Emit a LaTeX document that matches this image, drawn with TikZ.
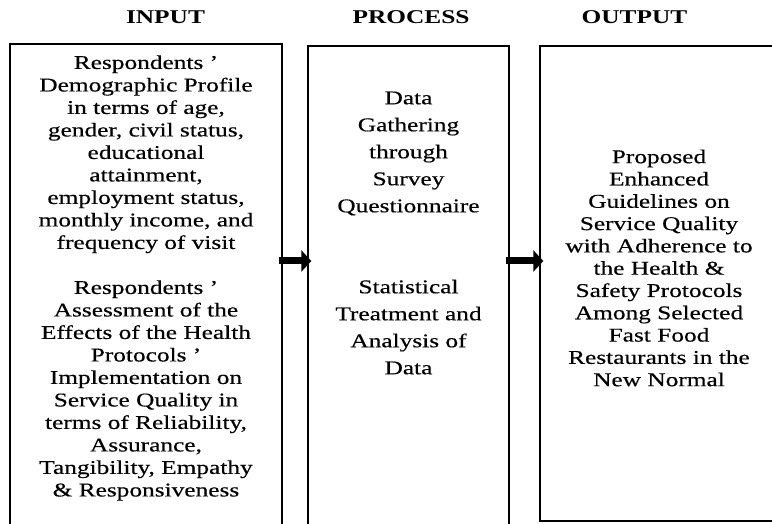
\documentclass[tikz,border=0pt]{standalone}
\usepackage{fontspec}
\setmainfont[FakeStretch=1.3]{Liberation Serif}
\newfontfamily\panelfont[FakeStretch=1.3,FakeBold=0.4]{Liberation Serif}
\usetikzlibrary{arrows.meta}
\begin{document}
\begin{tikzpicture}[x=1pt,y=-1pt,
  panel/.style={draw=black,line width=1.3pt,inner sep=0pt},
  heading/.style={font=\fontsize{19.5}{22.5}\selectfont\bfseries,inner sep=0pt},
  body/.style={align=center,inner sep=0pt,font=\panelfont\fontsize{19.5}{22.5}\selectfont},
  flow/.style={line width=7pt,-{Triangle[length=10pt,width=21pt]},shorten <=-4pt,shorten >=-4pt}]
\useasboundingbox (0,0) rectangle (772,524);
% headings
\node[heading] (hin)  at (165.5,17.5) {INPUT};
\node[heading] (hpro) at (411,17.5) {PROCESS};
\node[heading] (hout) at (634.5,17.5) {OUTPUT};
% the three panels
\node[panel,minimum width=272pt,minimum height=486pt] (in)  at (146,287) {};
\node[panel,minimum width=201pt,minimum height=484pt] (pro) at (408.5,288) {};
\node[panel,minimum width=238pt,minimum height=475pt] (out) at (659,283.5) {};
% panel texts
\node[body] (tin) at (146,278) {Respondents ’\\Demographic Profile\\in terms of age,\\gender, civil status,\\educational\\attainment,\\employment status,\\monthly income, and\\frequency of visit\\ \mbox{}\\Respondents ’\\Assessment of the\\Effects of the Health\\Protocols ’\\Implementation on\\Service Quality in\\terms of Reliability,\\Assurance,\\Tangibility, Empathy\\\& Responsiveness};
\node[body,font=\panelfont\fontsize{19.5}{27}\selectfont] (tpro) at (408.5,233) {Data\\Gathering\\through\\Survey\\Questionnaire\\ \mbox{}\\ \mbox{}\\Statistical\\Treatment and\\Analysis of\\Data};
\node[body,font=\panelfont\fontsize{19.5}{22.3}\selectfont] (tout) at (659,268) {Proposed\\Enhanced\\Guidelines on\\Service Quality\\with Adherence to\\the Health \&\\Safety Protocols\\Among Selected\\Fast Food\\Restaurants in the\\New Normal};
% arrows between panels
\coordinate (a1) at (in.east |- 0,261);
\coordinate (a2) at (pro.east |- 0,261);
\draw[flow] (a1) -- (pro.west |- a1);
\draw[flow] (a2) -- (out.west |- a2);
\end{tikzpicture}
\end{document}
